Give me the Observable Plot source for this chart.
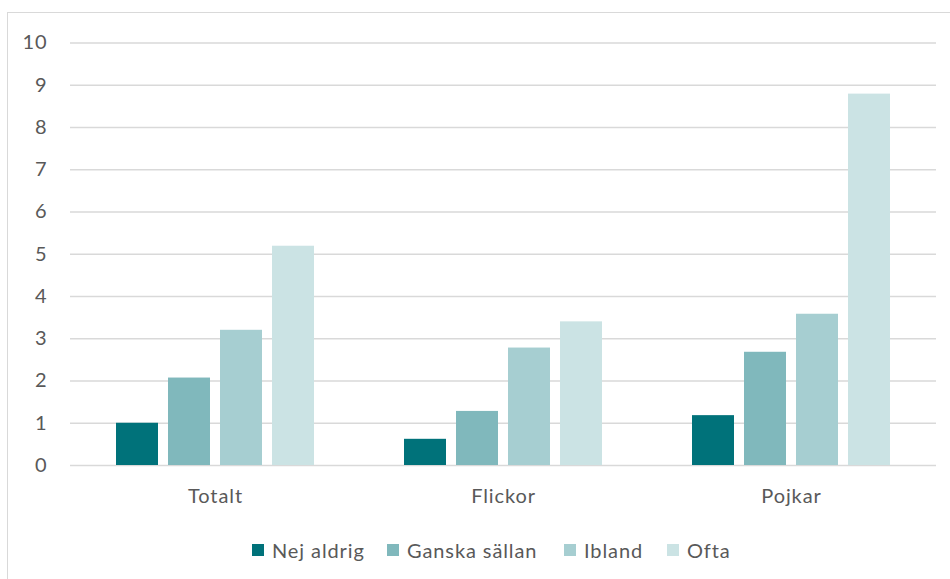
<!DOCTYPE html>
<html>
<head>
<meta charset="utf-8">
<script src="https://cdn.jsdelivr.net/npm/d3@7"></script>
<script src="https://cdn.jsdelivr.net/npm/@observablehq/plot@0.6"></script>
<style>
  html, body { margin: 0; padding: 0; background: #fff; }
  body { width: 950px; height: 579px; position: relative; overflow: hidden; font-family: Lato, "Open Sans", sans-serif; }
  #frame { position: absolute; left: 7px; top: 12px; width: 960px; height: 600px; border: 1.5px solid #d9d9d9; box-sizing: border-box; }
  #chart { position: absolute; left: 0; top: 0; width: 950px; height: 520px; }
  #chart svg { position: absolute; left: 0; top: 0; }
  #legend { position: absolute; left: 0; top: 537px; width: 950px; height: 26px; }
  .item { position: absolute; top: 0; display: flex; align-items: center; height: 26px; font-size: 20px; color: #595959; letter-spacing: 0.9px; white-space: nowrap; }
  .sw { width: 12px; height: 12px; margin-right: 8px; display: inline-block; }
</style>
</head>
<body>
<div id="frame"></div>
<div id="chart"></div>
<div id="legend"></div>
<script>
const groups = ["Totalt", "Flickor", "Pojkar"];
const series = ["Nej aldrig", "Ganska sällan", "Ibland", "Ofta"];
const colors = ["#00727a", "#80b8bc", "#a6ced1", "#cbe3e4"];
const nejAldrig = [1.0, 0.62, 1.18];
const ganskaSallan = [2.07, 1.28, 2.68];
const ibland = [3.2, 2.78, 3.58];
const ofta = [5.19, 3.4, 8.79];
const yTicks = [0, 1, 2, 3, 4, 5, 6, 7, 8, 9, 10];
const legendX = [252, 387, 564, 667];

const seriesValues = [nejAldrig, ganskaSallan, ibland, ofta];
const data = [];
groups.forEach((g, gi) => series.forEach((s, si) => data.push({group: g, series: s, value: seriesValues[si][gi]})));

const W = 950, H = 520;
const common = {
  width: W, height: H,
  marginLeft: 70, marginRight: 14, marginTop: 42.5, marginBottom: 55,
  style: {fontSize: "20px", fontFamily: "Lato, 'Open Sans', sans-serif", color: "#595959", background: "transparent", letterSpacing: "0.9px"}
};

// Layer 1: gridlines and y axis
const gridPlot = Plot.plot({
  ...common,
  y: {domain: [0, 10], ticks: yTicks, tickSize: 0, tickPadding: 23, label: null},
  marks: [
    Plot.ruleY(yTicks, {stroke: "#d9d9d9", strokeWidth: 1.5}),
    Plot.axisY({ticks: yTicks, tickSize: 0, tickPadding: 23, label: null})
  ]
});

// Layer 2: grouped bars
const barPlot = Plot.plot({
  ...common,
  fx: {domain: groups, paddingInner: 0.3, paddingOuter: 0.15, axis: "bottom", label: null, tickSize: 0, tickPadding: 23},
  x: {domain: series, paddingInner: 0.2, paddingOuter: 0.03, axis: null},
  y: {domain: [0, 10], axis: null},
  color: {domain: series, range: colors},
  marks: [
    Plot.barY(data, {fx: "group", x: "series", y: "value", fill: "series"})
  ]
});

const chart = document.getElementById("chart");
chart.appendChild(gridPlot);
chart.appendChild(barPlot);

const legend = document.getElementById("legend");
series.forEach((s, i) => {
  const it = document.createElement("div");
  it.className = "item";
  it.style.left = legendX[i] + "px";
  const sw = document.createElement("span");
  sw.className = "sw";
  sw.style.background = colors[i];
  it.appendChild(sw);
  it.appendChild(document.createTextNode(s));
  legend.appendChild(it);
});
</script>
</body>
</html>
